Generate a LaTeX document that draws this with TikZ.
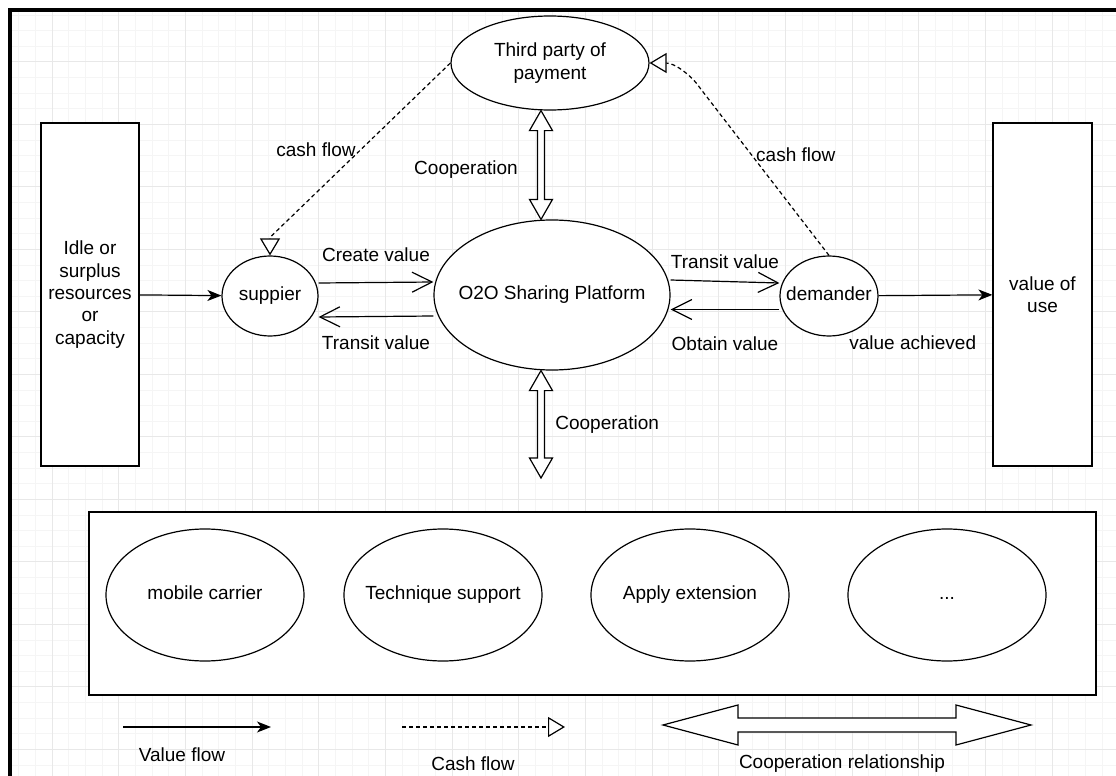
\documentclass[tikz,border=0pt]{standalone}
\usepackage{fontspec}
\setmainfont{Liberation Sans}
\usetikzlibrary{arrows.meta, shapes.geometric, calc}

% text that does not widen the oval
\newcommand{\ovtext}[1]{\makebox[0pt]{\vphantom{Tp}#1}}
% fat two-headed arrows (vertical / horizontal)
\newcommand{\vcoop}[2]{%
  \draw[coopline] (#1) -- ++(-11.5,20) -- ++(8,0) -- ($(#2)+(-3.5,-20)$) -- ++(-8,0) -- (#2)
    -- ++(11.5,-20) -- ++(-8,0) -- ($(#1)+(3.5,20)$) -- ++(8,0) -- cycle;}
\newcommand{\hcoop}[2]{%
  \draw[coopline] (#1) -- ++(75,-20) -- ++(0,13) -- ($(#2)+(-75,-7)$) -- ++(0,-13) -- (#2)
    -- ++(-75,20) -- ++(0,-13) -- ($(#1)+(75,7)$) -- ++(0,13) -- cycle;}

\begin{document}
\begin{tikzpicture}[
  x=0.5pt, y=-0.5pt,
  font=\fontsize{9.5}{11.2}\selectfont,
  box/.style={draw, fill=white, line width=0.6pt, align=center, inner sep=0pt},
  oval/.style={ellipse, draw, fill=white, line width=0.6pt, inner sep=0pt},
  lbl/.style={inner sep=1pt},
  valarr/.style={-{Stealth[length=7pt, width=5.5pt, inset=2pt]}, line width=0.6pt},
  openarr/.style={-{Straight Barb[length=10pt, width=10pt]}, line width=0.6pt},
  cash/.style={-{Triangle[fill=white, length=8.5pt, width=10pt]}, dash pattern=on 2pt off 1.5pt, line width=0.6pt},
  coopline/.style={draw, fill=white, line width=0.6pt, line join=miter},
  gridminor/.style={black!4, line width=0.3pt},
  gridmajor/.style={black!9, line width=0.5pt}
]
  \useasboundingbox (0,0) rectangle (1116,776);

  % background grid
  \foreach \i in {1,...,66} \draw[gridminor] ({2+16.667*\i},10) -- ({2+16.667*\i},776);
  \foreach \i in {0,...,48} \draw[gridminor] (10,{14.8+15.625*\i}) -- (1116,{14.8+15.625*\i});
  \foreach \i in {0,...,15} \draw[gridmajor] ({52+66.667*\i},10) -- ({52+66.667*\i},776);
  \foreach \i in {0,...,11} \draw[gridmajor] (10,{61.7+62.5*\i}) -- (1116,{61.7+62.5*\i});
  \draw[line width=2pt] (10,790) -- (10,10) -- (1130,10);

  % main actors
  \node[oval, minimum width=99pt, minimum height=47pt, align=center] (tp) at (550,63) {Third party of\\payment};
  \node[oval, minimum width=118pt, minimum height=75pt] (plat) at (552,295) {\ovtext{O2O Sharing Platform}};
  \node[oval, minimum width=48pt, minimum height=40pt] (sup) at (270,296) {\ovtext{suppier}};
  \node[oval, minimum width=49pt, minimum height=40pt] (dem) at (829,296) {\ovtext{demander}};
  \node[box, minimum width=49pt, minimum height=171.5pt] (idle) at (90,294.5) {Idle or\\surplus\\resources\\or\\capacity};
  \node[box, minimum width=49.5pt, minimum height=171.5pt] (use) at (1042.5,294.5) {value of\\use};

  % supporting services
  \node[box, minimum width=503.5pt, minimum height=91.5pt] (support) at (592.5,603.5) {};
  \foreach \nm/\cx/\txt in {mob/205/{mobile carrier}, tech/443/{Technique support}, appl/690/{Apply extension}, more/947/{{...}}}
    \node[oval, minimum width=99pt, minimum height=66pt] (\nm) at (\cx,595) {\ovtext{\txt}};

  \coordinate (ax) at (541,0);
  \coordinate (coopTa) at (tp.south -| ax);
  \coordinate (coopTb) at (plat.north -| ax);
  \coordinate (coopBa) at (plat.south -| ax);
  \coordinate (coopBb) at (541,478);
  \coordinate (supTop) at ($(sup.north)+(0,-18)$);
  \coordinate (cbend) at (700,88);

  % value flow
  \draw[valarr] (idle) -- (sup);
  \draw[openarr] ([yshift=6.5pt]sup.east) -- node[lbl, midway, yshift=14pt] (lcreate) {Create value} ([yshift=6.5pt]plat.west);
  \draw[openarr] ([yshift=-10.5pt]plat.west) -- node[lbl, midway, yshift=-13pt] (ltransl) {Transit value} ([yshift=-10.5pt]sup.east);
  \draw[openarr] ([yshift=7.5pt]plat.east) -- node[lbl, midway, yshift=10pt] (ltransr) {Transit value} ([yshift=6.5pt]dem.west);
  \draw[openarr] ([yshift=-6.75pt]dem.west) -- node[lbl, midway, yshift=-17pt] (lobtain) {Obtain value} ([yshift=-7.25pt]plat.east);
  \draw[valarr] (dem) -- node[lbl, pos=0.3, yshift=-23.5pt] (lachieved) {value achieved} (use);

  % cash flow
  \draw[cash] (tp.west) -- node[lbl, midway, left=1pt] (lcashl) {cash flow} (supTop) -- (sup.north);
  \draw[cash] (dem.north) -- node[lbl, pos=0.6, right=1pt] (lcashr) {cash flow} (cbend)
    .. controls (692,76) and (675,63) .. (tp.east);

  % cooperation
  \vcoop{coopTa}{coopTb}
  \vcoop{coopBa}{coopBb}
  \node[lbl] (lcoopt) at (466,170) {Cooperation};
  \node[lbl, anchor=west] (lcoopb) at (553,425) {Cooperation};

  % legend
  \coordinate (vf1) at (123,727);
  \coordinate (vf2) at (271,727);
  \coordinate (cf1) at (402,727);
  \coordinate (cf2) at (565,727);
  \coordinate (co1) at (663,725);
  \coordinate (co2) at (1031,725);
  \draw[valarr] (vf1) -- (vf2);
  \draw[cash] (cf1) -- (cf2);
  \hcoop{co1}{co2}
  \node[lbl] (lvf) at (182,755) {Value flow};
  \node[lbl] (lcf) at (473,764) {Cash flow};
  \node[lbl] (lco) at (842,764) {Cooperation relationship};
\end{tikzpicture}
\end{document}
